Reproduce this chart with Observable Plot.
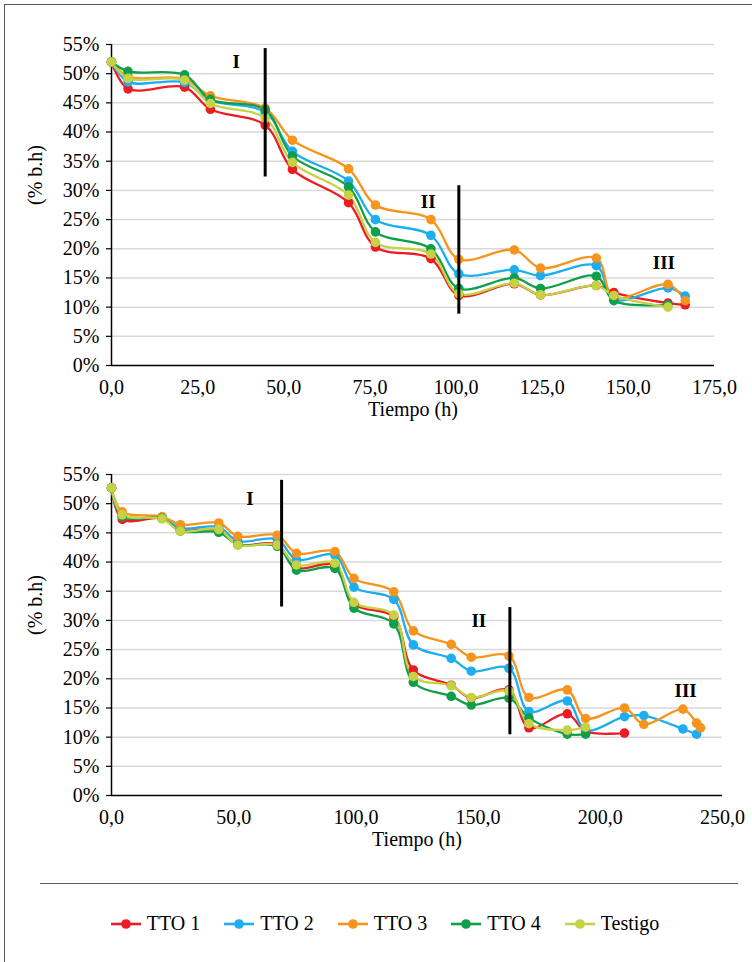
<!DOCTYPE html>
<html>
<head>
<meta charset="utf-8">
<script src="https://cdn.jsdelivr.net/npm/d3@7"></script>
<script src="https://cdn.jsdelivr.net/npm/@observablehq/plot@0.6"></script>
<style>
  html, body { margin: 0; padding: 0; background: #fff; }
  body { width: 752px; height: 962px; position: relative; overflow: hidden; font-family: "Liberation Serif", "Times New Roman", serif; }
  #frame { position: absolute; left: 4px; top: 4px; width: 820px; height: 1000px; border: 1.5px solid #555; box-sizing: border-box; }
  .chart { position: absolute; left: 0; }
  #sep { position: absolute; left: 40px; top: 883px; width: 698px; height: 0; border-top: 1.5px solid #595959; }
  #legend { position: absolute; left: 18px; width: 734px; top: 912px; display: flex; justify-content: center; align-items: center; gap: 24px; font-size: 20px; color: #000; }
  .item { display: flex; align-items: center; gap: 6px; }
</style>
</head>
<body>
<div id="frame"></div>
<div id="top" class="chart" style="top:0px"></div>
<div id="bottom" class="chart" style="top:430px"></div>
<div id="sep"></div>
<div id="legend"></div>
<script>
// ---------- Data ----------
const seriesNames = ["TTO 1", "TTO 2", "TTO 3", "TTO 4", "Testigo"];
const seriesColors = ["#ec1c24", "#1eaeef", "#f7941d", "#0f9f4b", "#c6d243"];

// Top chart (hours)
const topHours = [0, 4.8, 21.2, 28.7, 44.6, 52.5, 68.8, 76.6, 92.7, 100.8, 116.9, 124.5, 140.7, 145.8, 161.5, 166.5];
const topTTO1 = [52, 47.4, 47.7, 43.9, 41.2, 33.6, 27.9, 20.3, 18.3, 12.0, 14.0, 12.1, 13.7, 12.5, 10.7, 10.4];
const topTTO2 = [52, 48.6, 48.5, 45.4, 43.4, 36.7, 31.6, 25.0, 22.3, 15.7, 16.4, 15.4, 17.1, 11.3, 13.3, 11.9];
const topTTO3 = [52, 49.5, 49.1, 46.2, 44.1, 38.6, 33.7, 27.5, 25.0, 18.2, 19.8, 16.7, 18.4, 11.7, 13.9, 11.1];
const topTTO4 = [52, 50.4, 49.8, 45.6, 43.8, 35.9, 30.6, 22.9, 20.0, 13.2, 15.0, 13.2, 15.3, 11.1, 10.4, null];
const topTestigo = [52, 49.2, 48.9, 44.9, 42.4, 34.8, 29.2, 21.1, 19.1, 12.3, 14.1, 12.1, 13.7, 12.0, 10.0, null];

// Bottom chart (hours)
const botHours = [0, 4.4, 20.7, 28.2, 43.9, 51.7, 67.8, 75.7, 91.4, 99.2, 115.5, 123.5, 139, 147.2, 162.6, 170.8, 186.5, 194, 209.9, 217.8, 233.8, 239.4, 241];
const botTTO1 = [52.7, 47.3, 47.5, 45.5, 45.5, 43.0, 43.0, 39.0, 39.5, 32.8, 30.6, 21.5, 18.9, 16.7, 18.1, 11.6, 14.0, 11.0, 10.7, null, null, null, null];
const botTTO2 = [52.7, 47.8, 47.6, 45.8, 46.0, 43.6, 43.9, 40.4, 41.2, 35.7, 33.6, 25.8, 23.5, 21.3, 21.8, 14.4, 16.2, 11.2, 13.5, 13.7, 11.4, 10.5, null];
const botTTO3 = [52.7, 48.6, 47.8, 46.4, 46.7, 44.4, 44.6, 41.5, 41.8, 37.2, 34.9, 28.2, 25.9, 23.7, 23.9, 16.8, 18.1, 13.2, 15.0, 12.2, 14.8, 12.4, 11.6];
const botTTO4 = [52.7, 47.8, 47.5, 45.3, 45.1, 43.0, 42.7, 38.6, 38.9, 32.1, 29.4, 19.4, 17.0, 15.5, 16.7, 13.3, 10.5, 10.5, null, null, null, null, null];
const botTestigo = [52.7, 48.1, 47.4, 45.3, 45.6, 42.9, 42.9, 39.5, 39.8, 33.1, 30.9, 20.4, 18.8, 16.8, 17.9, 12.3, 11.2, 11.7, null, null, null, null, null];

// Stage markers (hour, lower %, upper %) and stage labels
const topStageLines = [[44.6, 32.3, 54.3], [100.8, 8.8, 30.8]];
const topStageLabels = [["I", 36.2, 52.0], ["II", 91.9, 28.1], ["III", 160.3, 17.5]];
const botStageLines = [[69.6, 32.3, 54.0], [163.0, 10.4, 32.2]];
const botStageLabels = [["I", 56.6, 50.8], ["II", 150.3, 29.9], ["III", 234.9, 18.0]];

const yTicks = [0, 5, 10, 15, 20, 25, 30, 35, 40, 45, 50, 55];
const topXTicks = [0, 25, 50, 75, 100, 125, 150, 175];
const botXTicks = [0, 50, 100, 150, 200, 250];
const xLabel = "Tiempo (h)";
const yLabel = "(% b.h)";

// ---------- Build ----------
function tidy(hours, arrays) {
  const out = [];
  arrays.forEach((vals, si) => {
    hours.forEach((h, i) => { if (vals[i] != null) out.push({h, v: vals[i], s: seriesNames[si]}); });
  });
  return out;
}
const fmtX = d => d.toFixed(1).replace(".", ",");
const fmtY = d => d + "%";

function chart(data, xTicks, xMax, marginRight, stageLines, stageLabels) {
  const lines = stageLines.map(([h, a, b]) => ({h, a, b}));
  const labels = stageLabels.map(([t, h, v]) => ({t, h, v}));
  return Plot.plot({
    width: 752,
    height: 430,
    marginLeft: 111,
    marginRight,
    marginTop: 44,
    marginBottom: 65,
    style: {fontFamily: "'Liberation Serif', 'Times New Roman', serif", fontSize: "20px", color: "#000", background: "transparent"},
    x: {domain: [0, xMax]},
    y: {domain: [0, 55]},
    color: {domain: seriesNames, range: seriesColors},
    marks: [
      Plot.gridY(yTicks.slice(1), {stroke: "#d9d9d9", strokeOpacity: 1, strokeWidth: 1.5}),
      Plot.axisY(yTicks, {tickFormat: fmtY, tickSize: 5, tickPadding: 7, stroke: "#000", strokeWidth: 1.2, label: null, fontSize: 20}),
      Plot.axisX(xTicks, {tickFormat: fmtX, tickSize: 0, tickPadding: 14, label: null, fontSize: 20}),
      Plot.ruleY([0], {stroke: "#000", strokeWidth: 1.5}),
      Plot.ruleX([0], {stroke: "#000", strokeWidth: 1.5}),
      Plot.line(data, {x: "h", y: "v", z: "s", stroke: "s", strokeWidth: 2.3, curve: "catmull-rom"}),
      Plot.dot(data, {x: "h", y: "v", fill: "s", r: 4.8, stroke: "none"}),
      Plot.ruleX(lines, {x: "h", y1: "a", y2: "b", stroke: "#000", strokeWidth: 3}),
      Plot.text(labels, {x: "h", y: "v", text: "t", fontWeight: "bold", fontSize: 19, fill: "#000"}),
      Plot.text([xLabel], {frameAnchor: "bottom", dy: 50, fontSize: 20, fill: "#000"}),
      Plot.text([yLabel], {frameAnchor: "left", dx: -76, rotate: -90, fontSize: 20, fill: "#000"})
    ]
  });
}

const topData = tidy(topHours, [topTTO1, topTTO2, topTTO3, topTTO4, topTestigo]);
const botData = tidy(botHours, [botTTO1, botTTO2, botTTO3, botTTO4, botTestigo]);
document.getElementById("top").appendChild(chart(topData, topXTicks, 175, 752 - 714, topStageLines, topStageLabels));
document.getElementById("bottom").appendChild(chart(botData, botXTicks, 250, 752 - 722, botStageLines, botStageLabels));

// Legend
const legend = document.getElementById("legend");
seriesNames.forEach((name, i) => {
  const item = document.createElement("div");
  item.className = "item";
  item.innerHTML = `<svg width="30" height="12"><line x1="0" x2="30" y1="6" y2="6" stroke="${seriesColors[i]}" stroke-width="2.6"/><circle cx="15" cy="6" r="4.8" fill="${seriesColors[i]}"/></svg><span>${name}</span>`;
  legend.appendChild(item);
});
</script>
</body>
</html>
